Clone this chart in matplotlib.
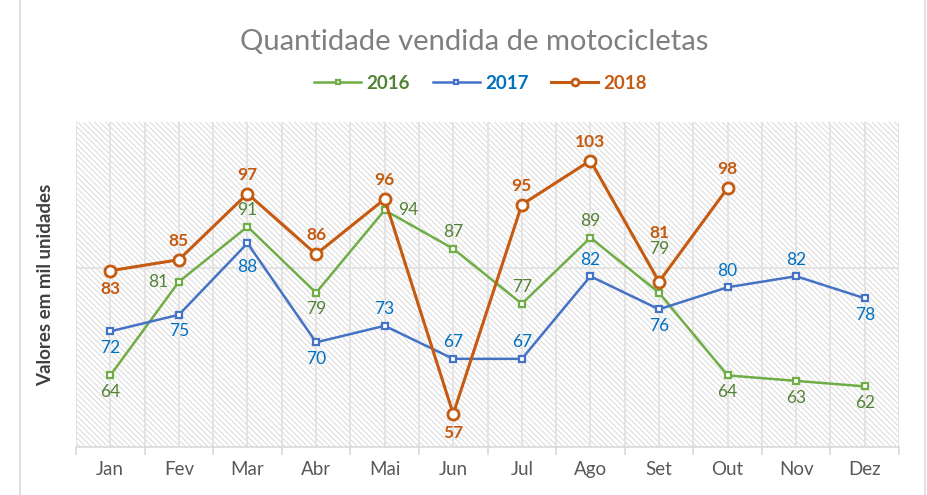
import matplotlib
matplotlib.use("Agg")
import matplotlib.pyplot as plt
from matplotlib.patches import Rectangle
from matplotlib.lines import Line2D

plt.rcParams['font.family'] = ['Lato', 'DejaVu Sans']
plt.rcParams['hatch.linewidth'] = 0.7

# data
months = ['Jan', 'Fev', 'Mar', 'Abr', 'Mai', 'Jun', 'Jul', 'Ago', 'Set', 'Out', 'Nov', 'Dez']
sales_2016 = [64, 81, 91, 79, 94, 87, 77, 89, 79, 64, 63, 62]
sales_2017 = [72, 75, 88, 70, 73, 67, 67, 82, 76, 80, 82, 78]
sales_2018 = [83, 85, 97, 86, 96, 57, 95, 103, 81, 98]

# where each data label sits relative to its point:
# a=above, A=well above, b=below, B=well below, l=left, r=right
pos_2016 = ['b', 'l', 'a', 'b', 'r', 'a', 'a', 'a', 'A', 'b', 'b', 'b']
pos_2017 = ['b', 'b', 'B', 'b', 'a', 'a', 'a', 'a', 'b', 'a', 'a', 'b']
pos_2018 = ['b', 'a', 'a', 'a', 'a', 'b', 'a', 'a', 'A', 'a']

fig = plt.figure(figsize=(9.28, 4.95), dpi=100)
ax = fig.add_axes([0.0819, 0.097, 0.8869, 0.6565])

# hatched plot area
ax.add_patch(Rectangle((0, 0), 1, 1, transform=ax.transAxes, facecolor='white',
                       edgecolor='#d9d9d9', hatch='\\\\\\\\\\\\', lw=0, zorder=0))

series = [
    ('2016', sales_2016, pos_2016, '#70AD47', '#548235', 's', 4.5, 1.8, 'normal'),
    ('2017', sales_2017, pos_2017, '#4472C4', '#0070C0', 's', 4.5, 1.8, 'normal'),
    ('2018', sales_2018, pos_2018, '#C55A11', '#C55A11', 'o', 8, 2.2, 'bold'),
]

handles = []
for name, vals, pos, lc, tc, mk, ms, lw, fw in series:
    x = list(range(len(vals)))
    ln, = ax.plot(x, vals, color=lc, lw=lw, marker=mk, ms=ms, mfc='white',
                  mec=lc, mew=1.6 if mk == 's' else 2.0, zorder=3, label=name)
    handles.append(ln)
    d = 13.5 if mk == 'o' else 12
    for xi, v, p in zip(x, vals, pos):
        off = {'a': (0, d), 'A': (0, 2.6 * d), 'b': (0, -d), 'B': (0, -1.4 * d),
               'l': (-d - 3, 0), 'r': (d + 5, 0)}[p]
        ax.annotate(str(v), (xi, v), xytext=off, textcoords='offset points',
                    ha='center', va='center', color=tc, fontsize=12.5,
                    fontweight=fw, zorder=4)

ax.set_xlim(-0.5, len(months) - 0.5)
ax.set_ylim(51, 110)

# ticks at category boundaries, labels at centres
ax.set_xticks([i - 0.5 for i in range(len(months) + 1)])
ax.set_xticklabels([])
ax.set_xticks(range(len(months)), minor=True)
ax.set_xticklabels(months, minor=True)
ax.tick_params(axis='x', which='major', length=6, color='#d9d9d9', width=1.2)
ax.tick_params(axis='x', which='minor', length=0, pad=10, labelsize=13.5,
               labelcolor='#595959')
ax.set_yticks([83.5])
ax.set_yticklabels([])
ax.tick_params(axis='y', length=0)

ax.set_axisbelow(True)
ax.grid(True, which='both', axis='x', color='#e2e2e2', lw=1.3)
ax.grid(True, which='major', axis='y', color='#e2e2e2', lw=1.3)

for s in ['top', 'left', 'right']:
    ax.spines[s].set_visible(False)
ax.spines['bottom'].set_color('#d9d9d9')
ax.spines['bottom'].set_linewidth(1.2)

ax.set_ylabel('Valores em mil unidades', fontsize=13.5, fontweight='bold',
              color='#404040', labelpad=12)

fig.text(0.511, 0.915, 'Quantidade vendida de motocicletas', ha='center',
         va='center', fontsize=21, color='#7f7f7f')

leg = fig.legend(handles=handles, loc='center', bbox_to_anchor=(0.518, 0.832),
                 ncol=3, frameon=False, handlelength=2.5, columnspacing=1.2,
                 handletextpad=0.3, prop={'weight': 'bold', 'size': 13.5})
for txt, (_, _, _, _, tc, _, _, _, _) in zip(leg.get_texts(), series):
    txt.set_color(tc)
for h in leg.legend_handles:
    h.set_markersize(5 if h.get_marker() == 'o' else 3.5)

# chart border
for xb in (20 / 928, 925 / 928):
    fig.add_artist(Line2D([xb, xb], [0, 1], color='#d9d9d9', lw=1.2))

fig.savefig('out.png', dpi=100)
